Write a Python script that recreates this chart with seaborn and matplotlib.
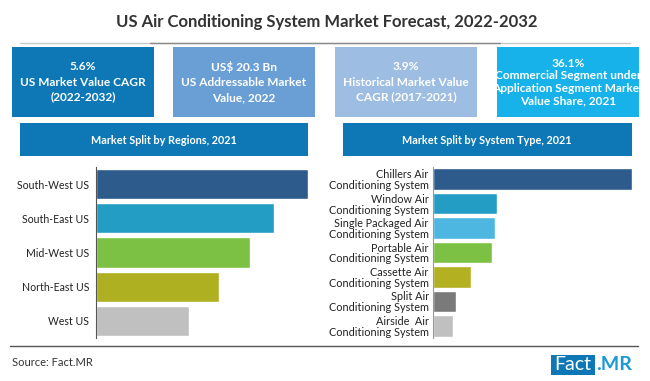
import matplotlib
matplotlib.use("Agg")
import matplotlib.pyplot as plt
import seaborn as sns
from matplotlib.patches import Rectangle

# Chart data
title = "US Air Conditioning System Market Forecast, 2022-2032"

kpi_texts = [
    "5.6%\nUS Market Value CAGR\n(2022-2032)",
    "US$ 20.3 Bn\nUS Addressable Market\nValue, 2022",
    "3.9%\nHistorical Market Value\nCAGR (2017-2021)",
    "36.1%\nCommercial Segment under\nApplication Segment Market\nValue Share, 2021",
]

regions = ["South-West US", "South-East US", "Mid-West US", "North-East US", "West US"]
region_share = [27.9, 23.4, 20.3, 16.2, 12.2]

systems = [
    "Chillers Air\nConditioning System",
    "Window Air\nConditioning System",
    "Single Packaged Air\nConditioning System",
    "Portable Air\nConditioning System",
    "Cassette Air\nConditioning System",
    "Split Air\nConditioning System",
    "Airside  Air\nConditioning System",
]
system_share = [42.8, 13.8, 13.3, 12.7, 8.2, 4.9, 4.3]

# Styles
region_colors = ["#2d5b8c", "#239dc4", "#7cc143", "#afb021", "#c0c0c0"]
system_colors = ["#2d5b8c", "#239dc4", "#4db7e2", "#7cc143", "#b3b122", "#7a7a7a", "#c0c0c0"]
kpi_colors = ["#0d78b5", "#6a9fd6", "#9dbee2", "#17b2ea"]
header_blue = "#0d78b5"

sns.set_theme(style="white")
plt.rcParams["font.family"] = ["Lato", "DejaVu Sans"]

W, H = 650, 381
fig = plt.figure(figsize=(6.5, 3.81), dpi=100)

# background axes in pixel coordinates
bg = fig.add_axes([0, 0, 1, 1])
bg.set_xlim(0, W)
bg.set_ylim(H, 0)
bg.axis("off")

bg.text(327, 22, title, ha="center", va="center", fontsize=12, fontweight="bold", color="#333333")
bg.plot([20, 630], [43, 43], color="#c8c8c8", lw=1)
bg.plot([150, 500], [43, 43], color="#8a8a8a", lw=1)

# KPI boxes
box_x = [12, 173, 335, 497]
for i, (x0, txt, col) in enumerate(zip(box_x, kpi_texts, kpi_colors)):
    bg.add_patch(Rectangle((x0, 47), 142, 70, color=col, lw=0))
    ls = 1.15 if i == 3 else 1.45
    bg.text(x0 + 71, 82, txt, ha="center", va="center", fontsize=8.6,
            fontweight="bold", color="white", linespacing=ls)

# section headers
bg.add_patch(Rectangle((20, 123), 288, 33, color=header_blue, lw=0))
bg.text(164, 140, "Market Split by Regions, 2021", ha="center", va="center",
        fontsize=7.8, fontweight="bold", color="white")
bg.add_patch(Rectangle((343, 123), 289, 33, color=header_blue, lw=0))
bg.text(487, 140, "Market Split by System Type, 2021", ha="center", va="center",
        fontsize=7.8, fontweight="bold", color="white")

# footer
bg.plot([10, 638], [346, 346], color="#555555", lw=1)
bg.text(12, 362, "Source: Fact.MR", ha="left", va="center", fontsize=8, color="#333333")
bg.add_patch(Rectangle((551, 355), 44, 20, color=header_blue, lw=0))
bg.text(573, 365, "Fact", ha="center", va="center", fontsize=14, color="white")
bg.text(596, 365, ".MR", ha="left", va="center", fontsize=14, fontweight="bold", color="#1a9ad6")


def px_axes(x0, y0, x1, y1):
    return fig.add_axes([x0 / W, 1 - y1 / H, (x1 - x0) / W, (y1 - y0) / H])


# Regions bar chart
ax1 = px_axes(96, 167, 308, 338)
sns.barplot(x=region_share, y=regions, hue=regions, palette=region_colors,
            legend=False, width=0.88, saturation=1, ax=ax1)
ax1.set_xlim(0, max(region_share))
ax1.set_xticks([])
ax1.set_xlabel("")
ax1.set_ylabel("")
ax1.tick_params(axis="y", length=0, labelsize=7.6, labelcolor="#222222", pad=5)
for s in ["top", "right", "bottom"]:
    ax1.spines[s].set_visible(False)
ax1.spines["left"].set_color("#555555")
ax1.spines["left"].set_linewidth(0.8)
ax1.patch.set_alpha(0)

# System type bar chart
ax2 = px_axes(433, 167, 632, 338)
sns.barplot(x=system_share, y=systems, hue=systems, palette=system_colors,
            legend=False, width=0.88, saturation=1, ax=ax2)
ax2.set_xlim(0, max(system_share))
ax2.set_xticks([])
ax2.set_xlabel("")
ax2.set_ylabel("")
ax2.tick_params(axis="y", length=0, labelsize=7.8, labelcolor="#222222", pad=3)
for lab in ax2.get_yticklabels():
    lab.set_linespacing(1.0)
for s in ["top", "right", "bottom"]:
    ax2.spines[s].set_visible(False)
ax2.spines["left"].set_color("#999999")
ax2.spines["left"].set_linewidth(0.8)
ax2.patch.set_alpha(0)

fig.savefig("out.png", dpi=100)
